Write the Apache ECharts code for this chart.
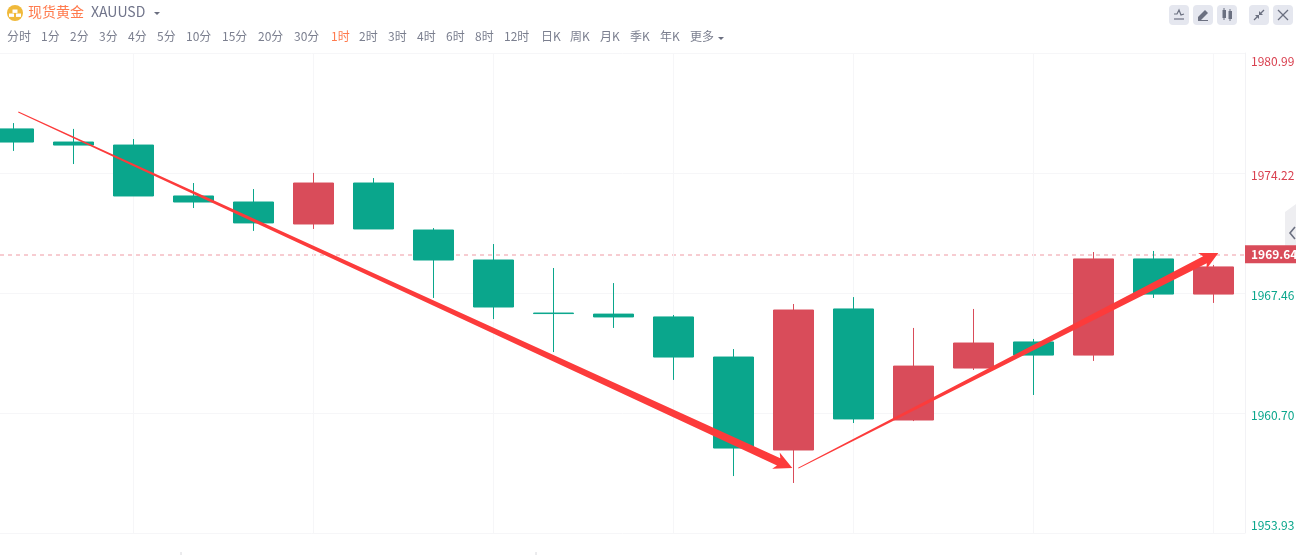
<!DOCTYPE html>
<html>
<head>
<meta charset="utf-8">
<style>html,body{margin:0;padding:0;background:#fff;overflow:hidden}#c{width:1296px;height:555px}</style>
<script src="https://cdn.jsdelivr.net/npm/echarts@6/dist/echarts.min.js"></script>
</head>
<body>
<div id="c"></div>
<script>
// [open, close, low, high]
const candles = [
  [1976.71,1975.97,1975.47,1977.04],
  [1975.97,1975.80,1974.73,1976.71],
  [1975.80,1972.93,1972.93,1976.14],
  [1972.93,1972.59,1972.25,1973.66],
  [1972.59,1971.41,1970.96,1973.32],
  [1971.35,1973.66,1971.07,1974.23],
  [1973.66,1971.07,1971.07,1973.94],
  [1971.01,1969.32,1967.18,1971.12],
  [1969.32,1966.67,1965.99,1970.22],
  [1966.33,1966.30,1964.13,1968.87],
  [1966.27,1966.11,1965.49,1968.02],
  [1966.11,1963.85,1962.56,1966.22],
  [1963.85,1958.72,1957.14,1964.30],
  [1958.61,1966.50,1956.75,1966.84],
  [1966.56,1960.36,1960.13,1967.23],
  [1960.30,1963.34,1960.24,1965.49],
  [1963.23,1964.64,1963.12,1966.56],
  [1964.70,1963.96,1961.71,1964.87],
  [1963.96,1969.38,1963.63,1969.77],
  [1969.38,1967.40,1967.18,1969.83],
  [1967.40,1968.93,1966.90,1969.04]
];
const tickLabels = ['1953.93','1960.70','1967.46','1974.22','1980.99'];
const gridCandles = [2,5,8,11,14,17,20];
const lastPrice = 1969.64;
// trend arrows: candle index and price of tail and tip
const arrowTail = [[0.08,1977.66],[13.08,1957.59]];
const arrowTip  = [[12.98,1957.59],[20.08,1969.72]];
const periods = ['分时','1分','2分','3分','4分','5分','10分','15分','20分','30分','1时','2时','3时','4时','6时','8时','12时','日K','周K','月K','季K','年K','更多'];
const activePeriod = '1时';
const RED='#d94c5a', GREEN='#0aa68c', FONT='"Noto Sans CJK SC","Noto Sans",sans-serif';
const periodX=[7,41,70,99,128,157,186,222,258,294,331,359,388,417,446,475,504,541,570,600,630,660,690];

const graphics=[];
function txt(t,x,y,size,color){graphics.push({type:'text',x,y,z:50,style:{text:t,fill:color,font:size+'px '+FONT,textVerticalAlign:'middle'}});}
function caret(x,y,c){graphics.push({type:'polygon',z:50,shape:{points:[[x,y],[x+6,y],[x+3,y+3]]},style:{fill:c}});}
periods.forEach((p,i)=>txt(p,periodX[i],36,12,p===activePeriod?'#ff7a4d':'#7b7f8f'));
caret(718,37,'#6b6f80');
txt('现货黄金',28,11.5,14,'#ff7a4d');
txt('XAUUSD',91,11.5,14,'#70748a');
caret(154,12,'#6b6f80');
graphics.push({type:'circle',z:50,shape:{cx:15,cy:13,r:8},style:{fill:'#f0b93a'}});
[[12.5,9.5],[9,13.5],[16,13.5]].forEach(p=>graphics.push({type:'rect',z:51,shape:{x:p[0],y:p[1],width:5,height:3.4},style:{fill:'#fff'}}));
[1169,1193,1217,1249,1273].forEach(x=>graphics.push({type:'rect',z:50,shape:{x,y:5,width:20,height:20,r:4},style:{fill:'#e5e7ef'}}));
const ic='#6b7080';
function ln(pts,w,z){graphics.push({type:'polyline',z:z||51,shape:{points:pts},style:{stroke:ic,lineWidth:w||1.2,fill:null}});}
ln([[1174,14],[1177,14],[1179,10],[1181,15],[1184,14]]);ln([[1174,19],[1184,19]]);
graphics.push({type:'polygon',z:51,shape:{points:[[1198,20],[1198,17],[1205,10],[1208,13],[1201,20]]},style:{fill:ic}});
ln([[1198,20.5],[1208,20.5]],1);
[[1224,10,8],[1230,11,8]].forEach(c=>{graphics.push({type:'rect',z:51,shape:{x:c[0]-1.5,y:c[1],width:3.5,height:c[2]},style:{fill:ic}});ln([[c[0],c[1]-2],[c[0],c[1]+c[2]+2]],1);});
ln([[1254,20],[1258,16]]);ln([[1260,14],[1264,10]]);
graphics.push({type:'polygon',z:51,shape:{points:[[1255,15],[1259,15],[1259,19]]},style:{fill:ic}});
graphics.push({type:'polygon',z:51,shape:{points:[[1259,11],[1259,15],[1263,15]]},style:{fill:ic}});
ln([[1278,10],[1288,20]]);ln([[1288,10],[1278,20]]);
// side handle
graphics.push({type:'polygon',z:1,shape:{points:[[1296,204],[1285,212],[1285,252],[1296,262]]},style:{fill:'#eeeef1'}});
ln([[1295,227],[1290,233],[1295,239]],1.6,2);
// cut-off marks at the bottom edge
[181,536].forEach(x=>graphics.push({type:'line',z:50,shape:{x1:x,y1:552,x2:x,y2:555},style:{stroke:'#d8d8dc',lineWidth:1}}));

function renderArrow(params,api){
  const a=api.coord([api.value(0),api.value(1)]), b=api.coord([api.value(2),api.value(3)]);
  const dx=b[0]-a[0],dy=b[1]-a[1],L=Math.hypot(dx,dy),ux=dx/L,uy=dy/L,nx=-uy,ny=ux;
  const headLen=18,headW=9,w0=0.5,w1=4;
  const hx=b[0]-ux*headLen,hy=b[1]-uy*headLen;
  const neckX=b[0]-ux*(headLen-3),neckY=b[1]-uy*(headLen-3);
  return {type:'polygon',shape:{points:[
    [a[0]+nx*w0,a[1]+ny*w0],[neckX+nx*w1,neckY+ny*w1],[hx+nx*headW,hy+ny*headW],[b[0],b[1]],
    [hx-nx*headW,hy-ny*headW],[neckX-nx*w1,neckY-ny*w1],[a[0]-nx*w0,a[1]-ny*w0]]},
    style:{fill:'#fc3b3b'}};
}

const labelBase={fontSize:12,fontFamily:FONT,align:'left'};
const chart=echarts.init(document.getElementById('c'),null,{renderer:'canvas'});
chart.setOption({
  animation:false,
  backgroundColor:'#fff',
  graphic:graphics,
  grid:{left:0,top:53,width:1245,height:480,containLabel:false,outerBoundsMode:'none'},
  xAxis:{type:'value',min:-13.5/60,max:1231.5/60,show:false,splitLine:{show:false}},
  yAxis:{type:'value',position:'right',min:1953.93,max:1980.99,interval:6.765,scale:true,
    axisLine:{show:true,onZero:false,lineStyle:{color:'#f2f2f5',width:1}},axisTick:{show:false},
    splitLine:{show:true,lineStyle:{color:'#f6f6f8',width:1}},
    axisLabel:{show:true,margin:6,fontSize:12,fontFamily:FONT,align:'left',
      verticalAlignMaxLabel:'middle',verticalAlignMinLabel:'middle',
      formatter:(v,i)=>{
        const name=i===0?'lo':i===tickLabels.length-1?'hi':v>lastPrice?'up':'dn';
        return '{'+name+'|'+tickLabels[i]+'}';
      },
      rich:{
        hi:Object.assign({},labelBase,{color:'#d9404f',padding:[16,0,0,0]}),
        up:Object.assign({},labelBase,{color:'#d9404f',padding:[4,0,0,0]}),
        dn:Object.assign({},labelBase,{color:GREEN,padding:[4,0,0,0]}),
        lo:Object.assign({},labelBase,{color:GREEN,padding:[0,0,16,0]})
      }}},
  series:[
    {type:'line',data:[],z:1,silent:true,
     markLine:{silent:true,symbol:'none',animation:false,z:1,
       lineStyle:{color:'#f5bcc2',width:1.5,type:[4,4]},
       label:{show:true,position:'end',distance:0,formatter:()=>lastPrice.toFixed(2),color:'#fff',fontSize:12,fontWeight:600,fontFamily:FONT,
         backgroundColor:RED,padding:[3,1,3,6],width:44,align:'left',verticalAlign:'middle'},
       data:[{yAxis:lastPrice}]}},
    {type:'candlestick',barWidth:40,z:3,silent:true,
     encode:{x:0,y:[1,2,3,4]},
     data:candles.map((c,i)=>[i].concat(c)),
     itemStyle:{color:RED,color0:GREEN,borderColor:RED,borderColor0:GREEN,borderWidth:1},
     markLine:{silent:true,symbol:'none',animation:false,z:1,
       label:{show:false},
       lineStyle:{color:'#f6f6f8',width:1,type:'solid'},
       data:gridCandles.map(i=>({xAxis:i}))}},
    {type:'custom',z:6,silent:true,clip:false,
     encode:{x:[0,2],y:[1,3]},
     renderItem:renderArrow,
     data:arrowTail.map((t,i)=>[t[0],t[1],arrowTip[i][0],arrowTip[i][1]])}
  ]
});
</script>
</body>
</html>
